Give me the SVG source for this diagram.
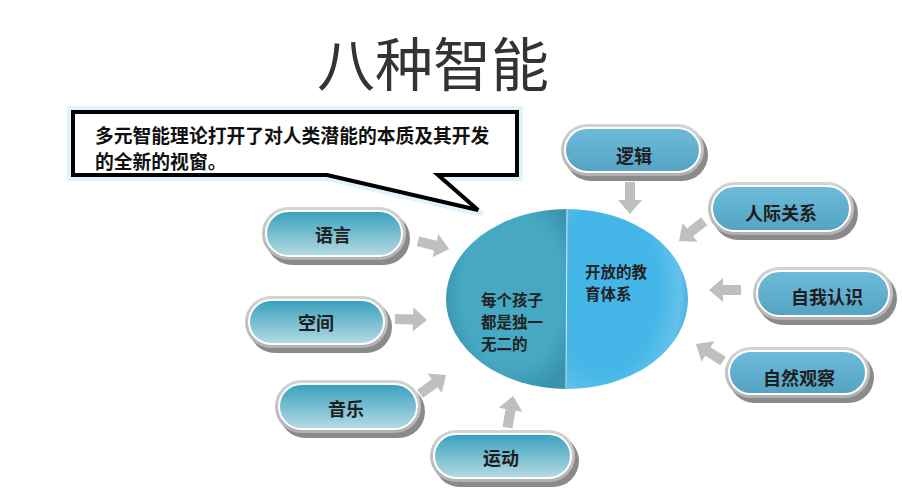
<svg xmlns="http://www.w3.org/2000/svg" width="902" height="488" viewBox="0 0 902 488">
<defs>
<style>
.t{font-family:"Noto Sans CJK SC","Liberation Sans",sans-serif;}
.lbl{font-family:"Noto Sans CJK SC","Liberation Sans",sans-serif;font-size:18px;font-weight:bold;fill:#1e1e1e;text-anchor:middle;}
.pie{font-family:"Noto Sans CJK SC","Liberation Sans",sans-serif;font-size:15.5px;font-weight:bold;fill:#222;}
.shadow{fill:#8a8a8a;}
.rim{fill:url(#rimG);}
.inA{fill:url(#gA);stroke:#fff;stroke-width:2;}
.inB{fill:url(#gB);stroke:#fff;stroke-width:2;}
.arr{fill:#bfbfbf;}
</style>
<linearGradient id="rimG" x1="0" y1="0" x2="0" y2="1"><stop offset="0" stop-color="#d4d4d4"/><stop offset="1" stop-color="#b0b0b0"/></linearGradient>
<linearGradient id="gA" x1="0" y1="0" x2="0" y2="1"><stop offset="0" stop-color="#37a0bd"/><stop offset="1" stop-color="#b6dbe3"/></linearGradient>
<linearGradient id="gB" x1="0" y1="0" x2="0" y2="1"><stop offset="0" stop-color="#6cbcd9"/><stop offset="1" stop-color="#55a3c4"/></linearGradient>
<radialGradient id="pl" cx="0.55" cy="0.45" r="0.6"><stop offset="0.7" stop-color="#47a8c3"/><stop offset="1" stop-color="#3a93ad"/></radialGradient>
<radialGradient id="pr" cx="0.3" cy="0.45" r="0.75"><stop offset="0.6" stop-color="#44b6e7"/><stop offset="0.85" stop-color="#62c2ea"/><stop offset="1" stop-color="#3ea6d4"/></radialGradient>
<path id="ar" d="M-32,-5 L-14,-5 L-14,-12 L0,0 L-14,12 L-14,5 L-32,5 Z"/>
</defs>
<rect width="902" height="488" fill="#fff"/>
<text class="t" x="433" y="86" font-size="58" fill="#333" text-anchor="middle">八种智能</text>
<g id="callout">
<path d="M70,109 H520 V178 H441 L482,214 L327,178 H70 Z" fill="none" stroke="#e2f4fa" stroke-width="6"/>
<path d="M73,112 H517 V175 H438 L478,210 L327,175 H73 Z" fill="#fff" stroke="#000" stroke-width="4" stroke-linejoin="miter"/>
<text class="t" font-size="18.8" font-weight="bold" fill="#111"><tspan x="95" y="143">多元智能理论打开了对人类潜能的本质及其开发</tspan><tspan x="95" y="169">的全新的视窗。</tspan></text>
</g>
<g id="center">
<path d="M567,209 A121,90 0 0 0 567,389 Z" fill="url(#pl)"/>
<path d="M567,209 A121,90 0 0 1 567,389 Z" fill="url(#pr)"/>
<line x1="567" y1="209" x2="566" y2="389" stroke="#d8eef6" stroke-width="1"/>
<text class="pie"><tspan x="481" y="306">每个孩子</tspan><tspan x="481" y="328">都是独一</tspan><tspan x="481" y="350">无二的</tspan></text>
<text class="pie"><tspan x="585" y="278">开放的教</tspan><tspan x="585" y="300">育体系</tspan></text>
</g>
<g id="connectors">
<use href="#ar" class="arr" transform="translate(449,249) rotate(14)"/>
<use href="#ar" class="arr" transform="translate(427,320) rotate(2)"/>
<use href="#ar" class="arr" transform="translate(446,375) rotate(-36)"/>
<use href="#ar" class="arr" transform="translate(513,396) rotate(-80)"/>
<use href="#ar" class="arr" transform="translate(630,214) rotate(90)"/>
<use href="#ar" class="arr" transform="translate(679,241) rotate(142)"/>
<use href="#ar" class="arr" transform="translate(709,290) rotate(180)"/>
<use href="#ar" class="arr" transform="translate(696,344) rotate(212)"/>
</g>
<g id="n-yuyan">
<rect class="shadow" x="266" y="212" width="144" height="53" rx="26.5"/>
<rect class="rim" x="262" y="207" width="144" height="53" rx="26.5"/>
<rect class="inA" x="266" y="211" width="136" height="45" rx="22.5"/>
<text class="lbl" x="333" y="242">语言</text>
</g>
<g id="n-kongjian">
<rect class="shadow" x="249" y="301" width="143" height="52" rx="26"/>
<rect class="rim" x="245" y="296" width="143" height="52" rx="26"/>
<rect class="inA" x="249" y="300" width="135" height="44" rx="22"/>
<text class="lbl" x="316" y="330">空间</text>
</g>
<g id="n-yinyue">
<rect class="shadow" x="279" y="385" width="146" height="53" rx="26.5"/>
<rect class="rim" x="275" y="380" width="146" height="53" rx="26.5"/>
<rect class="inA" x="279" y="384" width="138" height="45" rx="22.5"/>
<text class="lbl" x="346" y="416">音乐</text>
</g>
<g id="n-yundong">
<rect class="shadow" x="434" y="435" width="145" height="52" rx="26"/>
<rect class="rim" x="430" y="430" width="145" height="52" rx="26"/>
<rect class="inA" x="434" y="434" width="137" height="44" rx="22"/>
<text class="lbl" x="501" y="465">运动</text>
</g>
<g id="n-luoji">
<rect class="shadow" x="565" y="129" width="143" height="52" rx="26"/>
<rect class="rim" x="561" y="124" width="143" height="52" rx="26"/>
<rect class="inB" x="565" y="128" width="135" height="44" rx="22"/>
<text class="lbl" x="634" y="163">逻辑</text>
</g>
<g id="n-renji">
<rect class="shadow" x="712" y="187" width="146" height="53" rx="26.5"/>
<rect class="rim" x="708" y="182" width="146" height="53" rx="26.5"/>
<rect class="inB" x="712" y="186" width="138" height="45" rx="22.5"/>
<text class="lbl" x="781" y="220">人际关系</text>
</g>
<g id="n-ziwo">
<rect class="shadow" x="757" y="272" width="140" height="53" rx="26.5"/>
<rect class="rim" x="753" y="267" width="140" height="53" rx="26.5"/>
<rect class="inB" x="757" y="271" width="132" height="45" rx="22.5"/>
<text class="lbl" x="827" y="304">自我认识</text>
</g>
<g id="n-ziran">
<rect class="shadow" x="729" y="352" width="145" height="51" rx="25.5"/>
<rect class="rim" x="725" y="347" width="145" height="51" rx="25.5"/>
<rect class="inB" x="729" y="351" width="137" height="43" rx="21.5"/>
<text class="lbl" x="799" y="385">自然观察</text>
</g>
</svg>
